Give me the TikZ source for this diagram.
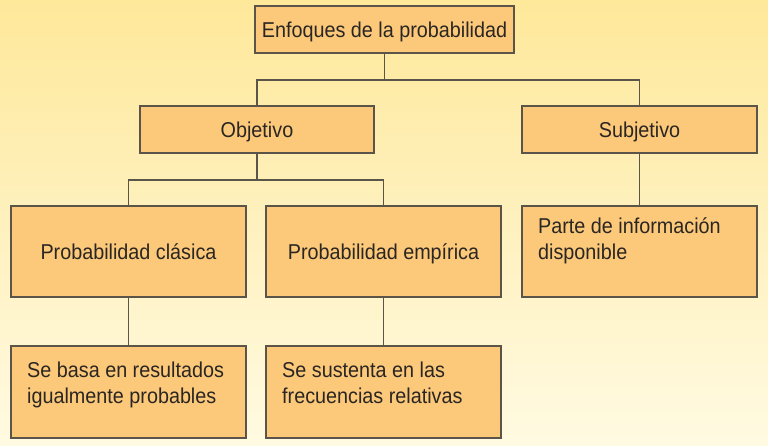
\documentclass[tikz,border=0pt]{standalone}
\usepackage{fontspec}
\setmainfont[FakeStretch=0.92]{Liberation Sans}
\definecolor{bgtop}{HTML}{FEE89A}
\definecolor{bgbot}{HTML}{FFFAE2}
\definecolor{boxfill}{HTML}{FCC87A}
\definecolor{boxline}{HTML}{5A5548}
\definecolor{txt}{HTML}{2A2622}
\tikzset{
  box/.style={draw=boxline, fill=boxfill, line width=1.3pt, inner sep=0pt,
    text=txt, font=\fontsize{21.5}{26}\selectfont, text height=15.5pt, text depth=0pt},
  lbl/.style={inner sep=0pt, anchor=base west, align=left, text=txt,
    font=\fontsize{21.5}{26}\selectfont},
  conn/.style={draw=boxline, line width=1.3pt}
}
\begin{document}
\begin{tikzpicture}[x=1pt,y=-1pt]
\shade[top color=bgtop, bottom color=bgbot] (0,0) rectangle (768,446);
\useasboundingbox (0,0) rectangle (768,446);
% boxes
\node[box, minimum width=259pt, minimum height=47pt] (top) at (384.5,29.5) {Enfoques de la probabilidad};
\node[box, minimum width=234pt, minimum height=47pt] (obj) at (257,129.5) {Objetivo};
\node[box, minimum width=235pt, minimum height=47pt] (sub) at (639.5,129.5) {Subjetivo};
\node[box, minimum width=235pt, minimum height=91pt] (cla) at (128.5,251.5) {Probabilidad clásica};
\node[box, minimum width=235pt, minimum height=91pt] (emp) at (383.5,251.5) {Probabilidad empírica};
\node[box, minimum width=235pt, minimum height=91pt] (par) at (639.5,251.5) {};
\node[box, minimum width=235pt, minimum height=92pt] (bas) at (128.5,392) {};
\node[box, minimum width=235pt, minimum height=92pt] (sus) at (383.5,392) {};
% multi-line texts (anchor = baseline of the last line)
\node[lbl] (partxt) at (538,259.5) {Parte de información\\disponible};
\node[lbl] (bastxt) at (27,403.5) {Se basa en resultados\\igualmente probables};
\node[lbl] (sustxt) at (282,403.5) {Se sustenta en las\\frecuencias relativas};
% junctions
\coordinate (j1) at (384.5,80);
\coordinate (j2) at (257,180);
% connectors
\draw[conn] (top.south) -- (j1);
\draw[conn] (j1) -| (obj.north);
\draw[conn] (j1) -| (sub.north);
\draw[conn] (obj.south) -- (j2);
\draw[conn] (j2) -| (cla.north);
\draw[conn] (j2) -| (emp.north);
\draw[conn] (sub.south) -- (par.north);
\draw[conn] (cla.south) -- (bas.north);
\draw[conn] (emp.south) -- (sus.north);
\end{tikzpicture}
\end{document}
